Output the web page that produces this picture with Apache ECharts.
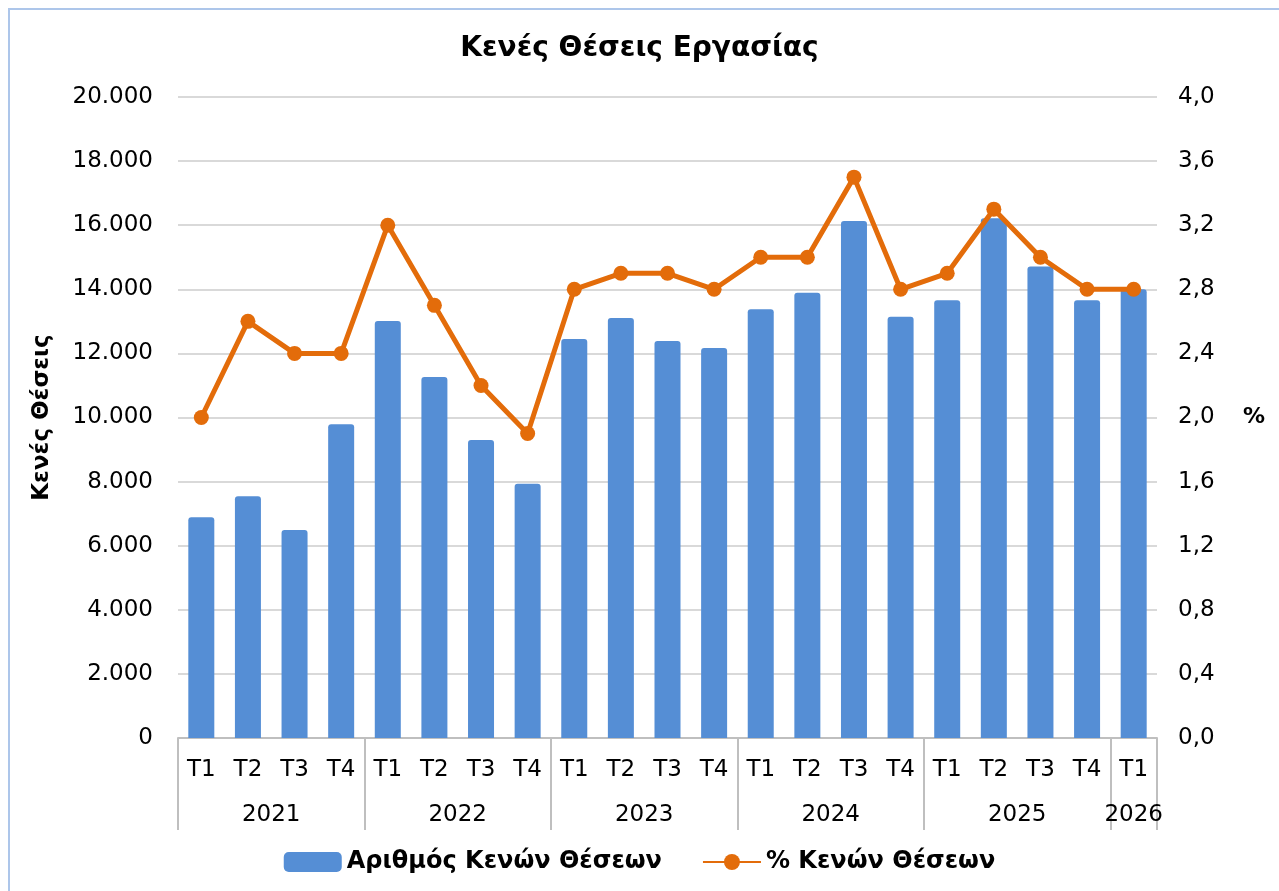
<!DOCTYPE html>
<html>
<head>
<meta charset="utf-8">
<script src="https://cdn.jsdelivr.net/npm/echarts@6/dist/echarts.min.js"></script>
<style>
html,body{margin:0;padding:0;background:#fff;overflow:hidden;}
#frame{position:absolute;left:8px;top:8px;width:1290px;height:900px;border:2px solid #ADC6EA;box-sizing:border-box;}
#chart{position:absolute;left:0;top:0;width:1279px;height:891px;}
</style>
</head>
<body>
<div id="frame"></div>
<div id="chart"></div>
<script>
const quarters = ['T1','T2','T3','T4','T1','T2','T3','T4','T1','T2','T3','T4','T1','T2','T3','T4','T1','T2','T3','T4','T1'];
const years = ['2021','2022','2023','2024','2025','2026'];
const yearBoundaries = [0,4,8,12,16,20,21];
const yearCenters = [2,6,10,14,18,20.5];
const vacancies = [6890,7540,6490,9790,13010,11260,9300,7935,12450,13105,12390,12170,13380,13890,16130,13140,13660,16220,14710,13660,14000];
const vacancyRate = [2.0,2.6,2.4,2.4,3.2,2.7,2.2,1.9,2.8,2.9,2.9,2.8,3.0,3.0,3.5,2.8,2.9,3.3,3.0,2.8,2.8];
const leftTicks = {min:0,max:20000,interval:2000};
const rightTicks = {min:0,max:4,interval:0.4};

const FONT = 'DejaVu Sans';
const chart = echarts.init(document.getElementById('chart'));
const yearMap = {};
yearCenters.forEach((c,i)=>{yearMap[c]=years[i];});

chart.setOption({
  animation:false,
  backgroundColor:'transparent',
  textStyle:{fontFamily:FONT},
  title:{
    text:'Κενές Θέσεις Εργασίας',
    left:'center', top:30,
    textStyle:{fontFamily:FONT,fontWeight:'bold',fontSize:28,color:'#000'}
  },
  legend:{
    bottom:12, left:'center',
    itemWidth:58, itemHeight:20, itemGap:40,
    textStyle:{fontFamily:FONT,fontWeight:'bold',fontSize:24,color:'#000'},
    data:['Αριθμός Κενών Θέσεων','% Κενών Θέσεων']
  },
  grid:{left:178,right:122,top:97,bottom:153,containLabel:false},
  xAxis:[
    {
      type:'category', data:quarters, position:'bottom',
      axisLine:{show:true,lineStyle:{color:'#BFBFBF',width:2}},
      axisTick:{show:false},
      axisLabel:{fontSize:23,color:'#000',margin:21,interval:0,fontFamily:FONT},
      splitLine:{show:false}
    },
    {
      type:'value', min:0, max:21, position:'bottom',
      axisLine:{show:false},
      axisTick:{show:true,length:92,customValues:yearBoundaries,lineStyle:{color:'#BFBFBF',width:2}},
      axisLabel:{fontSize:23,color:'#000',margin:66,customValues:yearCenters,fontFamily:FONT,
        formatter:v=>yearMap[v]||''},
      splitLine:{show:false}
    }
  ],
  yAxis:[
    {
      type:'value', min:leftTicks.min, max:leftTicks.max, interval:leftTicks.interval,
      name:'Κενές Θέσεις', nameLocation:'middle', nameRotate:90, nameGap:124,
      nameTextStyle:{fontFamily:FONT,fontWeight:'bold',fontSize:23,color:'#000'},
      axisLine:{show:false}, axisTick:{show:false},
      axisLabel:{fontSize:23,color:'#000',margin:25,fontFamily:FONT,
        formatter:v=>v.toString().replace(/\B(?=(\d{3})+(?!\d))/g,'.')},
      splitLine:{show:true,lineStyle:{color:'#D9D9D9',width:2}}
    },
    {
      type:'value', min:rightTicks.min, max:rightTicks.max, interval:rightTicks.interval,
      name:'%', nameLocation:'middle', nameRotate:0, nameGap:86,
      nameTextStyle:{fontFamily:FONT,fontWeight:'bold',fontSize:22,color:'#000'},
      axisLine:{show:false}, axisTick:{show:false},
      axisLabel:{fontSize:23,color:'#000',margin:21,fontFamily:FONT,
        formatter:v=>v.toFixed(1).replace('.',',')},
      splitLine:{show:false}
    }
  ],
  series:[
    {
      name:'Αριθμός Κενών Θέσεων', type:'bar', xAxisIndex:0, yAxisIndex:0,
      data:vacancies, barWidth:26,
      itemStyle:{color:'#558ED5',borderRadius:[3,3,0,0]}
    },
    {
      name:'% Κενών Θέσεων', type:'line', xAxisIndex:0, yAxisIndex:1,
      data:vacancyRate, symbol:'circle', symbolSize:15,
      lineStyle:{color:'#E36C0A',width:5},
      itemStyle:{color:'#E36C0A'}
    }
  ]
});
</script>
</body>
</html>
